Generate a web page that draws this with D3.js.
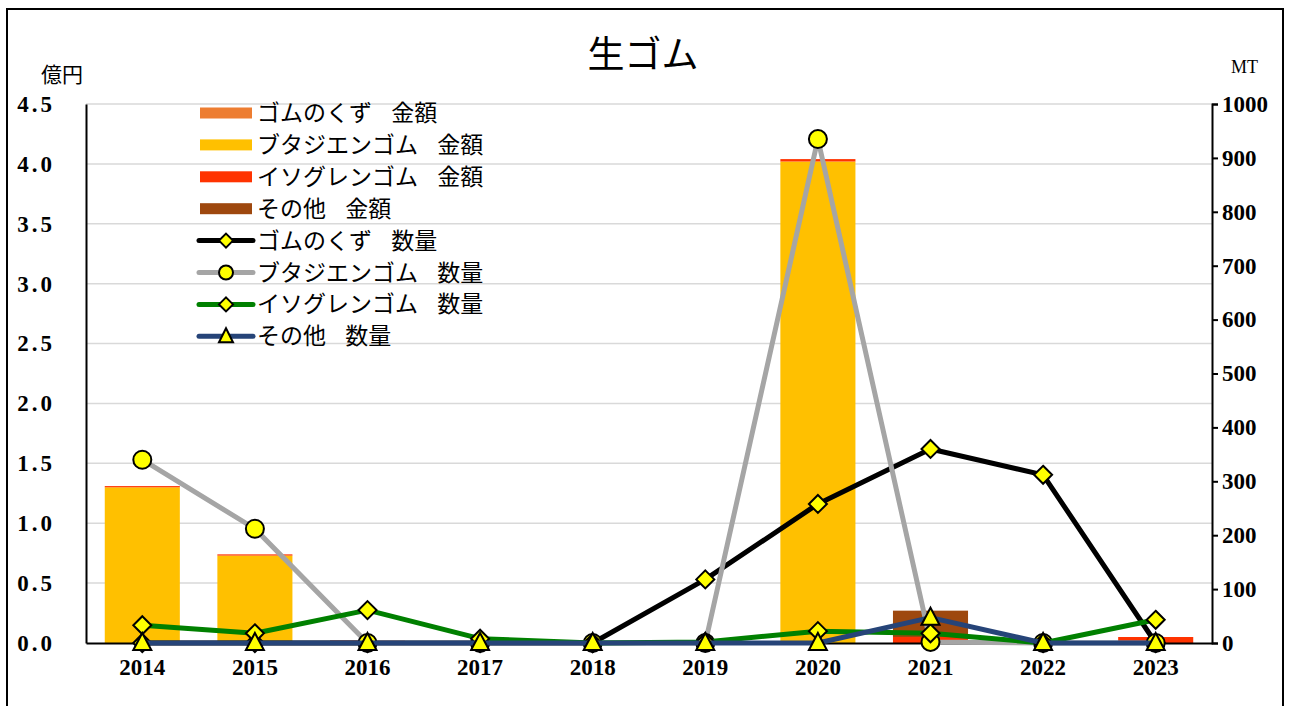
<!DOCTYPE html>
<html>
<head>
<meta charset="utf-8">
<script src="https://cdn.jsdelivr.net/npm/d3@7"></script>
<style>
  body { margin: 0; background: #fff; }
  text { font-family: "Liberation Serif", "Noto Sans CJK JP", serif; }
</style>
</head>
<body>
<div id="chart"></div>
<script>
// data (億円 / MT)
var years = ["2014","2015","2016","2017","2018","2019","2020","2021","2022","2023"];
var scrapAmt    = [0, 0, 0, 0, 0, 0, 0, 0, 0, 0];
var butadAmt    = [1.30, 0.73, 0, 0, 0, 0, 4.02, 0, 0, 0];
var isopAmt     = [0.01, 0.01, 0.02, 0, 0, 0, 0.02, 0.05, 0, 0.05];
var otherAmt    = [0, 0, 0, 0, 0, 0, 0, 0.22, 0, 0];
var scrapQty    = [0, 0, 0, 0, 0, 118, 258, 360, 312, 0];
var butadQty    = [340, 212, 0, 0, 0, 0, 935, 2, 0, 0];
var isopQty     = [33, 18, 61, 8, 0, 2, 22, 18, 0, 43];
var otherQty    = [0, 0, 0, 0, 0, 0, 0, 47, 0, 0];
var leftTicks   = [0, 0.5, 1.0, 1.5, 2.0, 2.5, 3.0, 3.5, 4.0, 4.5];
var rightTicks  = [0, 100, 200, 300, 400, 500, 600, 700, 800, 900, 1000];

var barSeries = [
    {name: "ゴムのくず 金額", values: scrapAmt, color: "#ED7D31"},
    {name: "ブタジエンゴム 金額", values: butadAmt, color: "#FFC000"},
    {name: "イソグレンゴム 金額", values: isopAmt, color: "#FF3300"},
    {name: "その他 金額", values: otherAmt, color: "#9E480E"}
];
var lineSeries = [
    {name: "ゴムのくず 数量", values: scrapQty, color: "#000000", marker: "diamond"},
    {name: "ブタジエンゴム 数量", values: butadQty, color: "#A5A5A5", marker: "circle"},
    {name: "イソグレンゴム 数量", values: isopQty, color: "#008000", marker: "diamond"},
    {name: "その他 数量", values: otherQty, color: "#264478", marker: "triangle"}
];

var width = 1291, height = 706;
var plotL = 86, plotR = 1212, plotT = 104, plotB = 643;

var svg = d3.select("#chart").append("svg")
    .attr("width", width)
    .attr("height", height);

var x = d3.scaleBand().domain(years).range([plotL, plotR])
    .paddingInner(1/3).paddingOuter(1/6);
var yL = d3.scaleLinear().domain([0, 4.5]).range([plotB, plotT]);
var yR = d3.scaleLinear().domain([0, 1000]).range([plotB, plotT]);

// frame
svg.append("rect")
    .attr("x", 7).attr("y", 9)
    .attr("width", 1276).attr("height", 740)
    .style("fill", "none")
    .style("stroke", "#000")
    .style("stroke-width", 2);

// title
svg.append("text")
    .attr("x", 643).attr("y", 68)
    .attr("text-anchor", "middle")
    .style("font-family", "'Noto Sans CJK JP'")
    .style("font-size", "37px")
    .text("生ゴム");

// gridlines
svg.selectAll(".grid")
    .data(leftTicks.slice(1))
    .enter().append("line")
    .attr("x1", plotL).attr("x2", plotR)
    .attr("y1", function(d) { return yL(d); })
    .attr("y2", function(d) { return yL(d); })
    .style("stroke", "#d9d9d9")
    .style("stroke-width", 1.5);

// stacked bars
var rows = years.map(function(yr, i) {
    var r = {year: yr};
    barSeries.forEach(function(s, k) { r["s" + k] = s.values[i]; });
    return r;
});
var stack = d3.stack().keys(barSeries.map(function(s, k) { return "s" + k; }));
var stacked = stack(rows);

svg.selectAll(".layer")
    .data(stacked)
    .enter().append("g")
    .style("fill", function(d, k) { return barSeries[k].color; })
    .selectAll("rect")
    .data(function(d) { return d; })
    .enter().append("rect")
    .attr("x", function(d) { return x(d.data.year); })
    .attr("width", x.bandwidth())
    .attr("y", function(d) { return yL(d[1]); })
    .attr("height", function(d) { return yL(d[0]) - yL(d[1]); });

// axes
var leftAxis = d3.axisLeft(yL).tickValues(leftTicks).tickSize(0).tickPadding(0)
    .tickFormat(d3.format(".1f"));
var gL = svg.append("g").attr("transform", "translate(" + plotL + ",0)").call(leftAxis);
gL.select(".domain").style("stroke", "#000").style("stroke-width", 2);
gL.selectAll("text")
    .attr("x", -31)
    .style("font-size", "23px")
    .style("font-weight", "bold")
    .style("letter-spacing", "3px")
    .style("font-family", "'Liberation Serif'");

var rightAxis = d3.axisRight(yR).tickValues(rightTicks).tickSize(6).tickSizeOuter(6).tickPadding(4)
    .tickFormat(d3.format("d"));
var gR = svg.append("g").attr("transform", "translate(" + plotR + ",0)").call(rightAxis);
gR.select(".domain").style("stroke", "#000").style("stroke-width", 2);
gR.selectAll(".tick line").style("stroke", "#000").style("stroke-width", 2);
gR.selectAll("text")
    .attr("x", 10)
    .style("font-size", "23px")
    .style("font-weight", "bold")
    .style("font-family", "'Liberation Serif'");

var bottomAxis = d3.axisBottom(x).tickSize(0).tickPadding(16);
var gB = svg.append("g").attr("transform", "translate(0," + plotB + ")").call(bottomAxis);
gB.select(".domain").style("stroke", "#000").style("stroke-width", 2);
gB.selectAll("text")
    .style("font-size", "23px")
    .style("font-weight", "bold")
    .style("font-family", "'Liberation Serif'");
svg.selectAll(".domain").style("fill", "none");

// unit labels
svg.append("text")
    .attr("x", 41).attr("y", 82)
    .style("font-family", "'Noto Sans CJK JP'")
    .style("font-size", "21px")
    .text("億円");
svg.append("text")
    .attr("x", 1231).attr("y", 73)
    .style("font-family", "'Liberation Serif'")
    .style("font-size", "18px")
    .text("MT");

// markers
function drawMarker(g, type, cx, cy) {
    if (type === "diamond") {
        g.append("path")
            .attr("d", "M" + cx + "," + (cy - 9) + " L" + (cx + 9) + "," + cy +
                " L" + cx + "," + (cy + 9) + " L" + (cx - 9) + "," + cy + " Z");
    } else if (type === "circle") {
        g.append("circle").attr("cx", cx).attr("cy", cy).attr("r", 9);
    } else {
        g.append("path")
            .attr("d", "M" + cx + "," + (cy - 10) + " L" + (cx + 9) + "," + (cy + 7) +
                " L" + (cx - 9) + "," + (cy + 7) + " Z");
    }
}

var lineGen = d3.line()
    .x(function(d, i) { return x(years[i]) + x.bandwidth() / 2; })
    .y(function(d) { return yR(d); });

lineSeries.forEach(function(s) {
    svg.append("path")
        .datum(s.values)
        .attr("d", lineGen)
        .style("fill", "none")
        .style("stroke", s.color)
        .style("stroke-width", 5)
        .style("stroke-linejoin", "round");
    var mg = svg.append("g")
        .style("fill", "#FFFF00")
        .style("stroke", "#000")
        .style("stroke-width", 2);
    s.values.forEach(function(v, i) {
        drawMarker(mg, s.marker, x(years[i]) + x.bandwidth() / 2, yR(v));
    });
});

// legend
var legY0 = 113, legStep = 31.9;
var legend = svg.append("g");
function legendText(yy, name) {
    legend.append("text")
        .attr("x", 257).attr("y", yy + 8)
        .style("font-family", "'Noto Sans CJK JP'")
        .style("font-size", "23px")
        .style("word-spacing", "14px")
        .text(name);
}
barSeries.forEach(function(s, k) {
    var yy = legY0 + k * legStep;
    legend.append("rect")
        .attr("x", 200).attr("y", yy - 5.5)
        .attr("width", 52).attr("height", 11)
        .style("fill", s.color);
    legendText(yy, s.name);
});
lineSeries.forEach(function(s, k) {
    var yy = legY0 + (k + 4) * legStep;
    legend.append("line")
        .attr("x1", 199).attr("x2", 253)
        .attr("y1", yy).attr("y2", yy)
        .style("stroke", s.color)
        .style("stroke-width", 5)
        .style("stroke-linecap", "round");
    var mg = legend.append("g")
        .style("fill", "#FFFF00")
        .style("stroke", "#000")
        .style("stroke-width", 2);
    if (s.marker === "circle") {
        mg.append("circle").attr("cx", 226).attr("cy", yy).attr("r", 7);
    } else if (s.marker === "diamond") {
        mg.append("path").attr("d", "M226," + (yy - 7) + " L233," + yy + " L226," + (yy + 7) + " L219," + yy + " Z");
    } else {
        mg.append("path").attr("d", "M226," + (yy - 8) + " L233," + (yy + 6) + " L219," + (yy + 6) + " Z");
    }
    legendText(yy, s.name);
});
</script>
</body>
</html>
